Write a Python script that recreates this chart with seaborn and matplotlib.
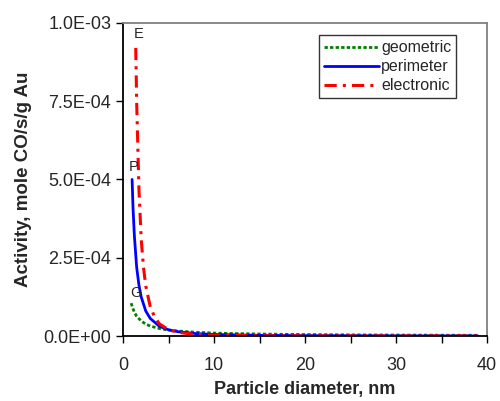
import numpy as np
import pandas as pd
import matplotlib
matplotlib.use("Agg")
import matplotlib.pyplot as plt
from matplotlib.ticker import MultipleLocator, FormatStrFormatter
import seaborn as sns

# values
geo_d = [0.9, 1.0, 1.25, 1.5, 2, 2.5, 3, 4, 5, 6, 8, 10, 12, 15, 20, 25, 30, 35, 39]
geo_act = [1.05e-4, 9.5e-5, 7.6e-5, 6.3e-5, 4.8e-5, 3.8e-5, 3.2e-5, 2.4e-5, 1.9e-5,
           1.6e-5, 1.2e-5, 9.5e-6, 8.0e-6, 6.4e-6, 4.8e-6, 3.8e-6, 3.2e-6, 2.7e-6, 2.4e-6]

per_d = [1.0, 1.1, 1.25, 1.5, 1.75, 2, 2.5, 3, 4, 5, 6, 8, 10, 15, 20, 30, 39]
per_act = [5.0e-4, 4.1e-4, 3.2e-4, 2.2e-4, 1.63e-4, 1.25e-4, 8.0e-5, 5.6e-5, 3.1e-5,
           2.0e-5, 1.4e-5, 7.8e-6, 5.0e-6, 2.2e-6, 1.25e-6, 5.6e-7, 3.3e-7]

ele_d = [1.4, 1.5, 1.75, 2, 2.25, 2.5, 3, 3.5, 4, 5, 6, 8, 10, 15, 20, 30, 39]
ele_act = [9.2e-4, 7.5e-4, 4.7e-4, 3.1e-4, 2.2e-4, 1.6e-4, 9.3e-5, 5.9e-5, 3.9e-5,
           2.0e-5, 1.2e-5, 4.9e-6, 2.5e-6, 7.4e-7, 3.1e-7, 9.3e-8, 4.2e-8]

labels = ["geometric", "perimeter", "electronic"]
letters = ["G", "P", "E"]

sns.set_style("white")
plt.rcParams["font.family"] = ["Liberation Sans", "DejaVu Sans"]

fig = plt.figure(figsize=(5, 4.01), dpi=100)
ax = fig.add_axes([0.246, 0.162, 0.728, 0.781])

sns.lineplot(x=geo_d, y=geo_act, ax=ax, color="#008000", lw=2,
             linestyle=(0, (1.2, 0.8)), label=labels[0])
sns.lineplot(x=per_d, y=per_act, ax=ax, color="#0000ff", lw=2, label=labels[1])
sns.lineplot(x=ele_d, y=ele_act, ax=ax, color="#ff0000", lw=2.2,
             linestyle=(0, (4, 2, 1, 2)), label=labels[2])

ax.set_xlim(0, 40)
ax.set_ylim(0, 1e-3)
ax.xaxis.set_major_locator(MultipleLocator(10))
ax.xaxis.set_minor_locator(MultipleLocator(5))
ax.yaxis.set_major_locator(MultipleLocator(2.5e-4))
ax.yaxis.set_major_formatter(FormatStrFormatter("%.1E"))
ax.tick_params(axis="both", which="both", direction="out", length=5, width=1,
               color="black", labelsize=13, bottom=True, left=True)
ax.tick_params(axis="x", pad=10)

for side in ["left", "bottom"]:
    ax.spines[side].set_color("black")
    ax.spines[side].set_linewidth(1.3)
for side in ["top", "right"]:
    ax.spines[side].set_color("#808080")
    ax.spines[side].set_linewidth(1.3)

ax.set_xlabel("Particle diameter, nm", fontsize=13, fontweight="bold", labelpad=5)
ax.set_ylabel("Activity, mole CO/s/g Au", fontsize=13.5, fontweight="bold", labelpad=8)

# point labels at the start of each curve
ax.text(geo_d[0] - 0.1, geo_act[0] + 1.0e-5, letters[0], fontsize=10.5, va="bottom")
ax.text(per_d[0] - 0.4, per_act[0] + 1.8e-5, letters[1], fontsize=10.5, va="bottom")
ax.text(ele_d[0] - 0.2, ele_act[0] + 2.2e-5, letters[2], fontsize=10.5, va="bottom")

leg = ax.legend(loc="upper right", bbox_to_anchor=(0.915, 0.96), fontsize=11.5,
                frameon=True, fancybox=False, handlelength=3.5, handletextpad=0.1,
                borderpad=0.3, labelspacing=0.25, borderaxespad=0)
leg.get_frame().set_edgecolor("black")
leg.get_frame().set_linewidth(1)

fig.savefig("out.png", dpi=100)
